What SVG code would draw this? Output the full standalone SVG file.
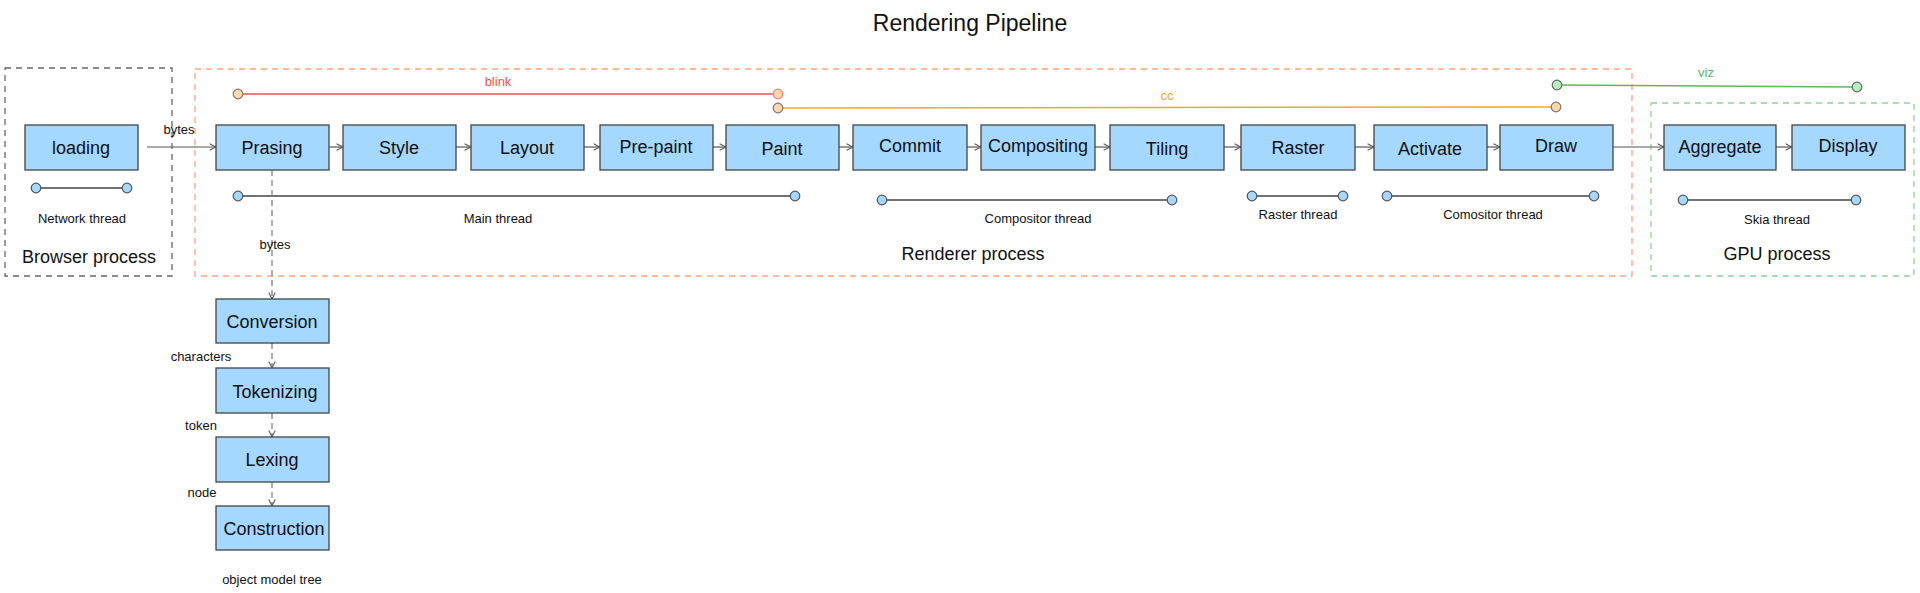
<svg xmlns="http://www.w3.org/2000/svg" width="1920" height="593" viewBox="0 0 1920 593">
<defs>
<marker id="arr" viewBox="0 0 10 10" refX="9" refY="5" markerWidth="8" markerHeight="8" orient="auto" markerUnits="userSpaceOnUse">
<path d="M1,1 L9,5 L1,9" fill="none" stroke="#555" stroke-width="1.3"/>
</marker>
<style>
text{font-family:"Liberation Sans",Arial,sans-serif;fill:#111}
.node rect{fill:#a5d8ff;stroke:#444;stroke-width:1.3}
.node text{font-size:18px;text-anchor:middle}
.lbl{font-size:13px;text-anchor:middle}
.proc{font-size:18px;text-anchor:middle}
.conn{stroke:#555;stroke-width:1.2;fill:none;marker-end:url(#arr)}
.dconn{stroke:#777;stroke-width:1.2;fill:none;stroke-dasharray:6 4;marker-end:url(#arr)}
.thr{stroke:#444;stroke-width:1.5}
.tc{fill:#a5d8ff;stroke:#555;stroke-width:1.2}
</style>
</defs>
<rect width="1920" height="593" fill="#fff"/>
<text x="970" y="31" style="font-size:23px;text-anchor:middle">Rendering Pipeline</text>

<g id="processes" fill="none" stroke-width="1.3" stroke-dasharray="6 5">
<rect id="browser-process" x="5" y="68" width="167" height="208" stroke="#666"/>
<rect id="renderer-process" x="195" y="69" width="1437" height="207" stroke="#ffa47e"/>
<rect id="gpu-process" x="1651" y="103" width="263" height="173" stroke="#8fd19e"/>
</g>
<text class="proc" x="89" y="263">Browser process</text>
<text class="proc" x="973" y="260">Renderer process</text>
<text class="proc" x="1777" y="260">GPU process</text>

<g id="modules">
<line x1="238" y1="94" x2="778" y2="94" stroke="#e8554e" stroke-width="1.5"/>
<circle cx="238" cy="94" r="4.8" fill="#ffd8a8" stroke="#777" stroke-width="1.2"/>
<circle cx="778" cy="94" r="4.8" fill="#ffd8a8" stroke="#f08080" stroke-width="1.2"/>
<text x="498" y="86" style="font-size:13px;text-anchor:middle;fill:#e8554e">blink</text>
<line x1="778" y1="108" x2="1556" y2="107" stroke="#f5a623" stroke-width="1.5"/>
<circle cx="778" cy="108" r="4.8" fill="#ffd8a8" stroke="#777" stroke-width="1.2"/>
<circle cx="1556" cy="107" r="4.8" fill="#ffd8a8" stroke="#777" stroke-width="1.2"/>
<text x="1167" y="100" style="font-size:13px;text-anchor:middle;fill:#f5a623">cc</text>
<line x1="1557" y1="85" x2="1857" y2="87" stroke="#5cb85c" stroke-width="1.5"/>
<circle cx="1557" cy="85" r="4.8" fill="#b2f2bb" stroke="#666" stroke-width="1.2"/>
<circle cx="1857" cy="87" r="4.8" fill="#b2f2bb" stroke="#666" stroke-width="1.2"/>
<text x="1706" y="77" style="font-size:13px;text-anchor:middle;fill:#5cb85c">viz</text>
</g>

<g id="threads">
<line class="thr" x1="36" y1="188" x2="127" y2="188"/><circle class="tc" cx="36" cy="188" r="4.8"/><circle class="tc" cx="127" cy="188" r="4.8"/>
<text class="lbl" x="82" y="223">Network thread</text>
<line class="thr" x1="238" y1="196" x2="795" y2="196"/><circle class="tc" cx="238" cy="196" r="4.8"/><circle class="tc" cx="795" cy="196" r="4.8"/>
<text class="lbl" x="498" y="223">Main thread</text>
<line class="thr" x1="882" y1="200" x2="1172" y2="200"/><circle class="tc" cx="882" cy="200" r="4.8"/><circle class="tc" cx="1172" cy="200" r="4.8"/>
<text class="lbl" x="1038" y="223">Compositor thread</text>
<line class="thr" x1="1252" y1="196" x2="1343" y2="196"/><circle class="tc" cx="1252" cy="196" r="4.8"/><circle class="tc" cx="1343" cy="196" r="4.8"/>
<text class="lbl" x="1298" y="219">Raster thread</text>
<line class="thr" x1="1387" y1="196" x2="1594" y2="196"/><circle class="tc" cx="1387" cy="196" r="4.8"/><circle class="tc" cx="1594" cy="196" r="4.8"/>
<text class="lbl" x="1493" y="219">Comositor thread</text>
<line class="thr" x1="1683" y1="200" x2="1856" y2="200"/><circle class="tc" cx="1683" cy="200" r="4.8"/><circle class="tc" cx="1856" cy="200" r="4.8"/>
<text class="lbl" x="1777" y="224">Skia thread</text>
</g>

<g id="connectors">
<line class="conn" x1="147" y1="147" x2="216" y2="147"/>
<line class="conn" x1="329" y1="147" x2="343" y2="147"/>
<line class="conn" x1="456" y1="147" x2="471" y2="147"/>
<line class="conn" x1="584" y1="147" x2="600" y2="147"/>
<line class="conn" x1="713" y1="147" x2="726" y2="147"/>
<line class="conn" x1="839" y1="147" x2="853" y2="147"/>
<line class="conn" x1="967" y1="147" x2="981" y2="147"/>
<line class="conn" x1="1095" y1="147" x2="1110" y2="147"/>
<line class="conn" x1="1224" y1="147" x2="1241" y2="147"/>
<line class="conn" x1="1355" y1="147" x2="1374" y2="147"/>
<line class="conn" x1="1487" y1="147" x2="1500" y2="147"/>
<line class="conn" x1="1613" y1="147" x2="1664" y2="147"/>
<line class="conn" x1="1776" y1="147" x2="1792" y2="147"/>
<line class="dconn" x1="272" y1="170" x2="272" y2="299"/>
<line class="dconn" x1="272" y1="343" x2="272" y2="368"/>
<line class="dconn" x1="272" y1="413" x2="272" y2="437"/>
<line class="dconn" x1="272" y1="482" x2="272" y2="506"/>
<text class="lbl" x="179" y="134">bytes</text>
<text class="lbl" x="275" y="249">bytes</text>
<text class="lbl" x="201" y="361">characters</text>
<text class="lbl" x="201" y="430">token</text>
<text class="lbl" x="202" y="497">node</text>
</g>

<g id="loading" class="node"><rect x="25" y="125" width="113" height="45"/><text x="81" y="154">loading</text></g>
<g id="prasing" class="node"><rect x="216" y="125" width="113" height="45"/><text x="272" y="154">Prasing</text></g>
<g id="style" class="node"><rect x="343" y="125" width="113" height="45"/><text x="399" y="154">Style</text></g>
<g id="layout" class="node"><rect x="471" y="125" width="113" height="45"/><text x="527" y="154">Layout</text></g>
<g id="pre-paint" class="node"><rect x="600" y="125" width="113" height="45"/><text x="656" y="153">Pre-paint</text></g>
<g id="paint" class="node"><rect x="726" y="125" width="113" height="45"/><text x="782" y="155">Paint</text></g>
<g id="commit" class="node"><rect x="853" y="125" width="114" height="45"/><text x="910" y="152">Commit</text></g>
<g id="compositing" class="node"><rect x="981" y="125" width="114" height="45"/><text x="1038" y="152">Compositing</text></g>
<g id="tiling" class="node"><rect x="1110" y="125" width="114" height="45"/><text x="1167" y="155">Tiling</text></g>
<g id="raster" class="node"><rect x="1241" y="125" width="114" height="45"/><text x="1298" y="154">Raster</text></g>
<g id="activate" class="node"><rect x="1374" y="125" width="113" height="45"/><text x="1430" y="155">Activate</text></g>
<g id="draw" class="node"><rect x="1500" y="125" width="113" height="45"/><text x="1556" y="152">Draw</text></g>
<g id="aggregate" class="node"><rect x="1664" y="125" width="112" height="45"/><text x="1720" y="153">Aggregate</text></g>
<g id="display" class="node"><rect x="1792" y="125" width="113" height="45"/><text x="1848" y="152">Display</text></g>
<g id="conversion" class="node"><rect x="216" y="299" width="113" height="44"/><text x="272" y="328">Conversion</text></g>
<g id="tokenizing" class="node"><rect x="216" y="368" width="113" height="45"/><text x="275" y="398">Tokenizing</text></g>
<g id="lexing" class="node"><rect x="216" y="437" width="113" height="45"/><text x="272" y="466">Lexing</text></g>
<g id="construction" class="node"><rect x="216" y="506" width="113" height="44"/><text x="274" y="535">Construction</text></g>
<text class="lbl" x="272" y="584">object model tree</text>
</svg>
